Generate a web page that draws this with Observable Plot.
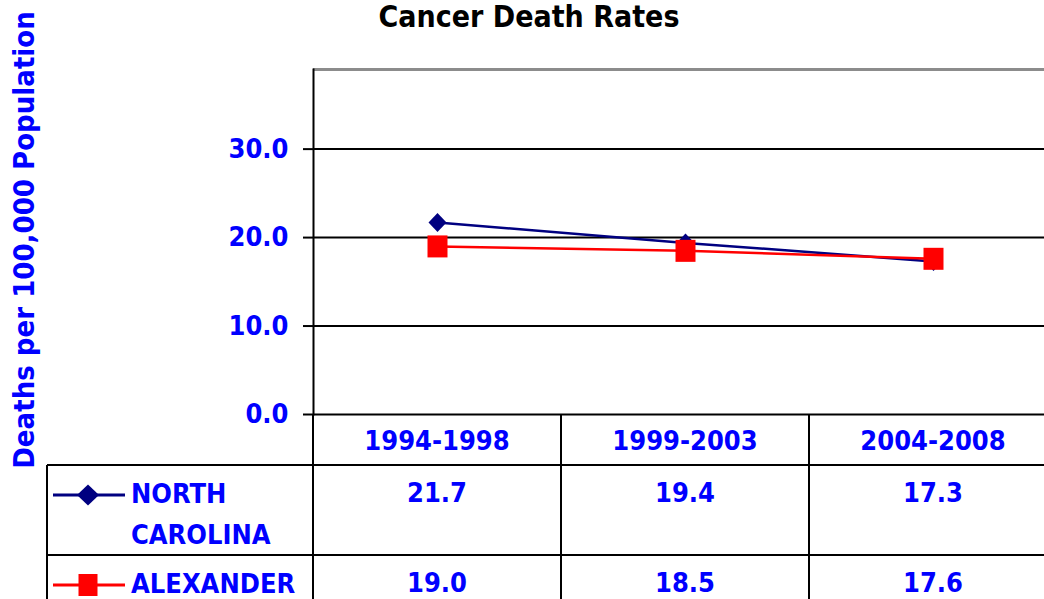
<!DOCTYPE html>
<html><head><meta charset="utf-8">
<script src="https://cdn.jsdelivr.net/npm/d3@7"></script>
<script src="https://cdn.jsdelivr.net/npm/@observablehq/plot@0.6"></script>
<style>
html,body{margin:0;padding:0;overflow:hidden;background:#fff;}
#wrap{position:relative;width:1044px;height:599px;overflow:hidden;font-family:"DejaVu Sans Condensed","DejaVu Sans",sans-serif;font-weight:bold;}
#title{position:absolute;left:0;top:2px;width:1058px;text-align:center;font-size:30px;line-height:30px;color:#000;}
#plot{position:absolute;left:0;top:0;}
.ln{position:absolute;background:#000;}
.cell{position:absolute;color:#0000ff;text-align:center;white-space:nowrap;}
.leg{position:absolute;color:#0000ff;font-size:27px;line-height:41px;width:180px;}
.sw{position:absolute;}
</style></head>
<body>
<div id="wrap"><div id="plot"></div><div id="title"></div></div>
<script>
const title = "Cancer Death Rates";
const yLabel = "Deaths per 100,000 Population";
const categories = ["1994-1998", "1999-2003", "2004-2008"];
const seriesNames = ["NORTH CAROLINA", "ALEXANDER"];
const northCarolina = [21.7, 19.4, 17.3];
const alexander = [19.0, 18.5, 17.6];
const yTicks = [0, 10, 20, 30];
const yDomain = [0, 39];
const seriesColors = ["#000080", "#ff0000"];

const seriesValues = [northCarolina, alexander];
const rows = [];
seriesNames.forEach((s, k) => categories.forEach((c, i) => rows.push({series: s, period: c, value: seriesValues[k][i]})));

const diamond = {draw(ctx){ctx.moveTo(0,-9.5);ctx.lineTo(9,0);ctx.lineTo(0,9.5);ctx.lineTo(-9,0);ctx.closePath();}};
const square = {draw(ctx){ctx.rect(-10,-11,20,22);}};
const diamondLeg = {draw(ctx){ctx.moveTo(0,-10.5);ctx.lineTo(11,0);ctx.lineTo(0,10.5);ctx.lineTo(-11,0);ctx.closePath();}};
const squareLeg = {draw(ctx){ctx.rect(-9.5,-11,19,22);}};
const symbols = [diamond, square];
const legSymbols = [diamondLeg, squareLeg];

const font = '"DejaVu Sans Condensed","DejaVu Sans",sans-serif';
const seriesMarks = [];
seriesNames.forEach((s, k) => {
  const data = rows.filter(d => d.series === s);
  seriesMarks.push(Plot.line(data, {x: "period", y: "value", stroke: seriesColors[k], strokeWidth: 2.5}));
  seriesMarks.push(Plot.dot(data, {x: "period", y: "value", symbol: symbols[k], fill: seriesColors[k], stroke: "none"}));
});

const plot = Plot.plot({
  width: 1044, height: 420,
  marginLeft: 313, marginRight: 0, marginTop: 69, marginBottom: 6,
  x: {type: "point", domain: categories, range: [313, 1057], padding: 0.5, axis: null},
  y: {domain: yDomain},
  style: {fontFamily: font, fontWeight: "bold", background: "transparent", overflow: "visible"},
  marks: [
    Plot.ruleY(yTicks.filter(t => t > 0), {stroke: "#000", strokeWidth: 2}),
    Plot.ruleY([yDomain[1]], {stroke: "#8c8c8c", strokeWidth: 3}),
    Plot.ruleY([0], {stroke: "#000", strokeWidth: 2}),
    Plot.frame({anchor: "left", stroke: "#000", strokeWidth: 2}),
    Plot.axisY({ticks: yTicks, tickSize: 10, tickFormat: () => "", stroke: "#000", strokeWidth: 2, label: null}),
    Plot.axisY({ticks: yTicks, tickSize: 0, tickPadding: 25, tickFormat: d => d.toFixed(1), fill: "#0000ff", fontSize: 27, fontWeight: "bold", label: null}),
    Plot.text([yLabel], {text: d => d, frameAnchor: "left", textAnchor: "middle", rotate: -90, dx: -289, dy: -2, fill: "#0000ff", fontSize: 29, fontWeight: "bold"}),
    ...seriesMarks
  ]
});
document.getElementById("plot").append(plot);
document.getElementById("title").textContent = title;

// data table below the chart, aligned with the x scale
const wrap = document.getElementById("wrap");
const xs = plot.scale("x");
const step = xs.apply(categories[1]) - xs.apply(categories[0]);
const edges = categories.map(c => xs.apply(c) - step / 2);
edges.push(edges[edges.length - 1] + step);
const axisY0 = 414, hdrBottom = 465, row2Top = 555, tableLeft = 47;
function line(x, y, w, h){const d=document.createElement("div");d.className="ln";d.style.cssText=`left:${x}px;top:${y}px;width:${w}px;height:${h}px`;wrap.append(d);}
edges.forEach(e => line(e - 1, axisY0, 2, 599 - axisY0));
line(tableLeft - 1, hdrBottom, 2, 599 - hdrBottom);
line(tableLeft, hdrBottom - 1, 1044 - tableLeft, 2);
line(tableLeft, row2Top - 1, 1044 - tableLeft, 2);
function cell(text, cx, top, h, fs){const d=document.createElement("div");d.className="cell";d.textContent=text;d.style.cssText=`left:${cx-110}px;width:220px;top:${top}px;height:${h}px;line-height:${h}px;font-size:${fs}px`;wrap.append(d);}
categories.forEach(c => cell(c, xs.apply(c), axisY0 + 3, hdrBottom - axisY0 - 3, 27));
const rowTops = [hdrBottom, row2Top];
seriesValues.forEach((vals, k) => categories.forEach((c, i) => cell(vals[i].toFixed(1), xs.apply(c), rowTops[k] + 7, 41, 27)));
seriesNames.forEach((s, k) => {
  const lab = document.createElement("div");
  lab.className = "leg"; lab.textContent = s;
  lab.style.left = "131px"; lab.style.top = (rowTops[k] + 8) + "px";
  wrap.append(lab);
  const sw = document.createElementNS("http://www.w3.org/2000/svg", "svg");
  sw.setAttribute("class", "sw"); sw.setAttribute("width", 72); sw.setAttribute("height", 26);
  sw.style.left = "53px"; sw.style.top = (rowTops[k] + 30 - 13) + "px";
  sw.innerHTML = `<line x1="0" x2="72" y1="13" y2="13" stroke="${seriesColors[k]}" stroke-width="3"/><path transform="translate(35,13)" d="${d3.symbol().type(legSymbols[k])()}" fill="${seriesColors[k]}"/>`;
  wrap.append(sw);
});
</script>
</body></html>
